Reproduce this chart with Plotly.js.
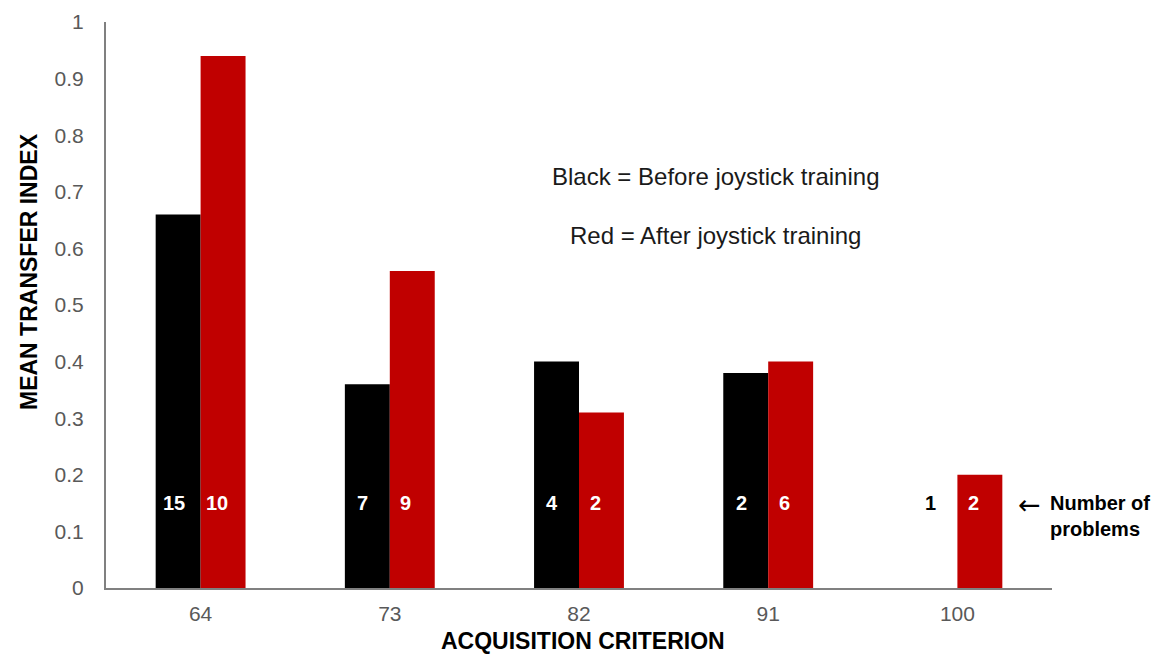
<!DOCTYPE html>
<html>
<head>
<meta charset="utf-8">
<script src="https://cdn.plot.ly/plotly-3.0.1.min.js"></script>
<style>html,body{margin:0;padding:0;background:#fff;}#chart{width:1162px;height:654px;}</style>
</head>
<body>
<div id="chart"></div>
<script>
const categories = ['64', '73', '82', '91', '100'];
const beforeValues = [0.66, 0.36, 0.40, 0.38, 0];
const afterValues = [0.94, 0.56, 0.31, 0.40, 0.20];
const beforeCounts = [15, 7, 4, 2, 1];
const afterCounts = [10, 9, 2, 6, 2];
const countLabelY = 0.15;
const yTickVals = [0, 0.1, 0.2, 0.3, 0.4, 0.5, 0.6, 0.7, 0.8, 0.9, 1];
const yTickText = ['0', '0.1', '0.2', '0.3', '0.4', '0.5', '0.6', '0.7', '0.8', '0.9', '1'];

const FONT = 'Liberation Sans, Arial, sans-serif';

const traces = [
  {type: 'bar', name: 'Before joystick training', x: categories, y: beforeValues,
   marker: {color: '#000000'}},
  {type: 'bar', name: 'After joystick training', x: categories, y: afterValues,
   marker: {color: '#c00000'}}
];

const L = 106, R = 110, T = 22, B = 66, W = 1162, H = 654;
const pw = W - L - R, ph = H - T - B;
function px(xp) { return (xp - L) / pw; }
function py(yp) { return (H - B - yp) / ph; }

const annotations = [];
categories.forEach((c, i) => {
  annotations.push({x: i, y: countLabelY, xref: 'x', yref: 'y', xshift: -27, text: '<b>' + beforeCounts[i] + '</b>',
    showarrow: false, font: {family: FONT, size: 20, color: beforeValues[i] > countLabelY ? '#ffffff' : '#000000'}});
  annotations.push({x: i, y: countLabelY, xref: 'x', yref: 'y', xshift: 16, text: '<b>' + afterCounts[i] + '</b>',
    showarrow: false, font: {family: FONT, size: 20, color: afterValues[i] > countLabelY ? '#ffffff' : '#000000'}});
});
annotations.push({x: px(1029), y: py(504), xref: 'paper', yref: 'paper', xanchor: 'center', yanchor: 'middle', text: '←', showarrow: false,
  font: {family: 'DejaVu Sans, sans-serif', size: 27, color: '#000000'}});
annotations.push({text: '<b>Number of<br>problems</b>', showarrow: false, align: 'left', xanchor: 'left', yanchor: 'middle',
  xref: 'paper', yref: 'paper', x: px(1048), y: py(516), font: {family: FONT, size: 20, color: '#000000'}});
annotations.push({text: 'Black = Before joystick training', showarrow: false, xref: 'paper', yref: 'paper',
  x: px(715), y: py(176), xanchor: 'center', yanchor: 'middle', font: {family: FONT, size: 24, color: '#1a1a1a'}});
annotations.push({text: 'Red = After joystick training', showarrow: false, xref: 'paper', yref: 'paper',
  x: px(715), y: py(235), xanchor: 'center', yanchor: 'middle', font: {family: FONT, size: 24, color: '#1a1a1a'}});
annotations.push({text: '<b>ACQUISITION CRITERION</b>', showarrow: false, xref: 'paper', yref: 'paper',
  x: px(583), y: py(641), xanchor: 'center', yanchor: 'middle', font: {family: FONT, size: 23, color: '#000000'}});
annotations.push({text: '<b>MEAN TRANSFER INDEX</b>', showarrow: false, xref: 'paper', yref: 'paper', textangle: -90,
  x: px(29), y: py(272), xanchor: 'center', yanchor: 'middle', font: {family: FONT, size: 23, color: '#000000'}});

const layout = {
  width: W, height: H,
  margin: {l: L, r: R, t: T, b: B},
  paper_bgcolor: '#ffffff', plot_bgcolor: '#ffffff',
  font: {family: FONT, color: '#595959', size: 20},
  showlegend: false,
  barmode: 'group',
  bargap: 0.525,
  bargroupgap: 0,
  xaxis: {
    type: 'category', range: [-0.5, 4.5], showline: true, linecolor: '#808080', linewidth: 2,
    showgrid: false, ticks: '', zeroline: false, ticklabelstandoff: 6,
    tickfont: {family: FONT, size: 21, color: '#595959'},
    automargin: false
  },
  yaxis: {
    range: [0, 1], tickvals: yTickVals, ticktext: yTickText,
    showline: true, linecolor: '#808080', linewidth: 2,
    showgrid: false, zeroline: false, ticks: '',
    ticklabelstandoff: 16,
    tickfont: {family: FONT, size: 21, color: '#595959'},
    automargin: false
  },
  annotations: annotations
};

Plotly.newPlot('chart', traces, layout, {displayModeBar: false, staticPlot: true});
</script>
</body>
</html>
